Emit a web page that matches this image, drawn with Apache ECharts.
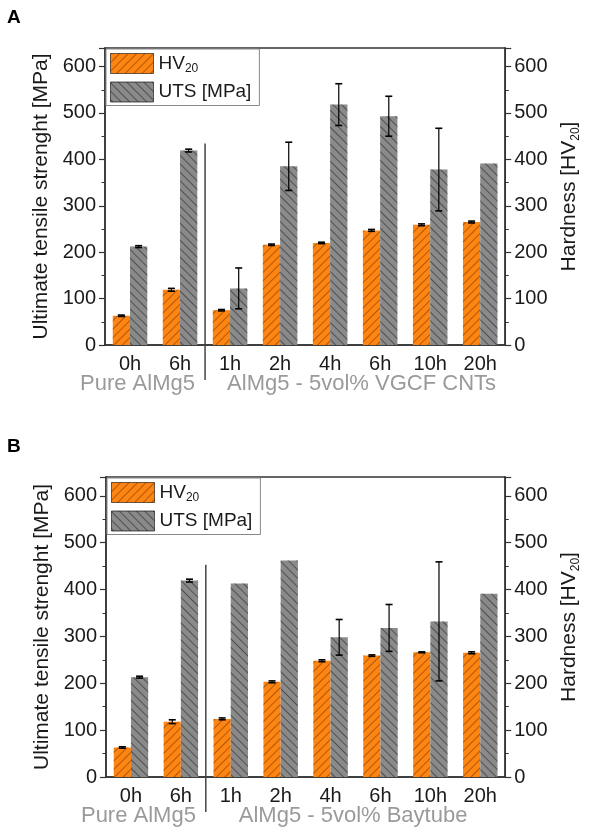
<!DOCTYPE html>
<html>
<head>
<meta charset="utf-8">
<script src="https://cdn.jsdelivr.net/npm/echarts@6/dist/echarts.min.js"></script>
<style>
html,body{margin:0;padding:0;background:#fff;}
#chart{width:590px;height:831px;}
</style>
</head>
<body>
<div id="chart"></div>
<script>
const categories = ['0h', '6h', '1h', '2h', '4h', '6h', '10h', '20h'];
const yTicksMax = 640;
// Panel A: AlMg5 - 5vol% VGCF CNTs
const hvA = [63, 119, 75, 216, 220, 247, 259, 265];
const hvErrA = [1.5, 3, 1.5, 1.5, 1.5, 2, 2, 2];
const utsA = [212, 419, 122, 385, 518, 493, 378, 391];
const utsErrA = [2, 3, 44, 52, 45, 43, 89, 0];
// Panel B: AlMg5 - 5vol% Baytube
const hvB = [63, 118, 124, 203, 248, 259, 266, 265];
const hvErrB = [1.5, 4, 2, 2, 2, 1.5, 1, 2];
const utsB = [213, 419, 413, 462, 298, 318, 332, 391];
const utsErrB = [2, 3, 0, 0, 38, 50, 127, 0];
const sepTop = [434, 453];
const groupLabelsA = ['Pure AlMg5', 'AlMg5 - 5vol% VGCF CNTs'];
const groupLabelsB = ['Pure AlMg5', 'AlMg5 - 5vol% Baytube'];
const panelTitles = ['A', 'B'];

const FONT = '"Liberation Sans", Arial, sans-serif';
const AX = '#333';
const TXT = '#1a1a1a';
const BAR_GAP_CAT = 0.31;

const hvDecal = {symbol: 'rect', symbolSize: 1, dashArrayX: [1, 0], dashArrayY: [0.9, 4.3], rotation: -Math.PI / 4, color: 'rgba(110,50,0,0.55)'};
const utsDecal = {symbol: 'rect', symbolSize: 1, dashArrayX: [1, 0], dashArrayY: [0.9, 4.3], rotation: Math.PI / 4, color: 'rgba(40,40,40,0.6)'};

function errRender(sign) {
  return function (params, api) {
    const i = api.value(0), v = api.value(1), e = api.value(2);
    if (!e) return null;
    const band = api.size([1, 0])[0];
    const bw = band * (1 - BAR_GAP_CAT) / 2;
    const cx = api.coord([i, v])[0] + sign * bw / 2;
    const top = api.coord([i, v + e])[1];
    const bot = api.coord([i, v - e])[1];
    const cap = 3.5;
    const st = {stroke: '#000', lineWidth: 1.2};
    return {type: 'group', children: [
      {type: 'line', shape: {x1: cx, y1: top, x2: cx, y2: bot}, style: st},
      {type: 'line', shape: {x1: cx - cap, y1: top, x2: cx + cap, y2: top}, style: Object.assign({}, st, {lineWidth: 1.6})},
      {type: 'line', shape: {x1: cx - cap, y1: bot, x2: cx + cap, y2: bot}, style: Object.assign({}, st, {lineWidth: 1.6})}
    ]};
  };
}

function yAx(gi, pos, name) {
  return {
    type: 'value', gridIndex: gi, position: pos, min: 0, max: yTicksMax, interval: 100,
    name: name, nameLocation: 'middle', nameRotate: 90, nameGap: pos === 'left' ? 52 : 48,
    nameTextStyle: {fontFamily: FONT, fontSize: 21, color: TXT,
      rich: {s: {fontFamily: FONT, fontSize: 12, color: TXT, verticalAlign: 'bottom', lineHeight: 26}}},
    axisLine: {show: true, lineStyle: {color: AX, width: 1.5}},
    axisTick: {show: true, length: 6, lineStyle: {color: AX, width: 1.2}},
    minorTick: {show: true, splitNumber: 2, length: 3.5, lineStyle: {color: AX, width: 1}},
    splitLine: {show: false},
    axisLabel: {fontFamily: FONT, fontSize: 20, color: TXT, margin: 9, showMaxLabel: false}
  };
}
function xAx(gi) {
  return {
    type: 'category', gridIndex: gi, data: categories,
    axisLine: {show: true, lineStyle: {color: AX, width: 1.5}},
    axisTick: {show: false},
    axisLabel: {fontFamily: FONT, fontSize: 20, color: TXT, margin: 9, interval: 0}
  };
}
function legendFor(gi, left, top) {
  return {
    data: [{name: 'HV20', icon: 'rect'}, {name: 'UTS [MPa]', icon: 'rect'}],
    left: left, top: top, orient: 'vertical',
    itemWidth: 43, itemHeight: 20, itemGap: 7, padding: [4, 8, 3, 4],
    backgroundColor: '#fff', borderColor: '#888', borderWidth: 1, borderRadius: 0,
    selectedMode: false,
    itemStyle: {borderColor: 'rgba(0,0,0,0.35)', borderWidth: 1},
    formatter: n => n === 'HV20' ? '{n|HV}{s|20}' : '{n|UTS [MPa]}',
    textStyle: {fontFamily: FONT, fontSize: 19, color: TXT,
      rich: {n: {fontFamily: FONT, fontSize: 19, color: TXT, lineHeight: 22, verticalAlign: 'middle'},
             s: {fontFamily: FONT, fontSize: 12, color: TXT, lineHeight: 22, verticalAlign: 'bottom'}}}
  };
}
function barSeries(name, gi, data, color, decal) {
  return {
    name: name, type: 'bar', xAxisIndex: gi, yAxisIndex: gi * 2, data: data,
    barGap: '0%', barCategoryGap: (BAR_GAP_CAT * 100) + '%',
    itemStyle: {color: color, decal: decal}, z: 2
  };
}
function errSeries(gi, vals, errs, sign) {
  return {
    type: 'custom', xAxisIndex: gi, yAxisIndex: gi * 2, z: 5, silent: true,
    data: vals.map((v, i) => [i, v, errs[i]]),
    renderItem: errRender(sign)
  };
}

const chart = echarts.init(document.getElementById('chart'), null, {renderer: 'canvas'});
const option = {
  animation: false,
  backgroundColor: '#fff',
  aria: {enabled: true, decal: {show: true}},
  grid: [
    {left: 105, top: 48, width: 405, height: 297, show: true, borderColor: AX, borderWidth: 1.5, backgroundColor: 'transparent'},
    {left: 106, top: 477, width: 409, height: 300, show: true, borderColor: AX, borderWidth: 1.5, backgroundColor: 'transparent'}
  ],
  xAxis: [xAx(0), xAx(1)],
  yAxis: [
    yAx(0, 'left', 'Ultimate tensile strenght [MPa]'),
    yAx(0, 'right', 'Hardness [HV{s|20}]'),
    yAx(1, 'left', 'Ultimate tensile strenght [MPa]'),
    yAx(1, 'right', 'Hardness [HV{s|20}]')
  ],
  legend: [legendFor(0, 106, 49), legendFor(1, 107, 478)],
  series: [
    barSeries('HV20', 0, hvA, '#ff8512', hvDecal),
    barSeries('UTS [MPa]', 0, utsA, '#8a8a8a', utsDecal),
    barSeries('HV20', 1, hvB, '#ff8512', hvDecal),
    barSeries('UTS [MPa]', 1, utsB, '#8a8a8a', utsDecal),
    errSeries(0, hvA, hvErrA, -1),
    errSeries(0, utsA, utsErrA, 1),
    errSeries(1, hvB, hvErrB, -1),
    errSeries(1, utsB, utsErrB, 1)
  ]
};
chart.setOption(option);

// Decorations: separators, group labels and panel titles
const gfx = [];
const groupLabels = [groupLabelsA, groupLabelsB];
const labelLeftOffset = [[-50, -3], [-50, 8]];
for (let g = 0; g < 2; g++) {
  const p1 = chart.convertToPixel({xAxisIndex: g, yAxisIndex: g * 2}, [1, sepTop[g]]);
  const p2 = chart.convertToPixel({xAxisIndex: g, yAxisIndex: g * 2}, [2, 0]);
  const sx = (p1[0] + p2[0]) / 2;
  gfx.push({type: 'line', shape: {x1: sx, y1: p1[1], x2: sx, y2: p2[1] + 35},
    style: {stroke: '#444', lineWidth: 1.5}, z: 10});
  const c0 = chart.convertToPixel({xAxisIndex: g, yAxisIndex: g * 2}, [0, 0]);
  gfx.push({type: 'text', x: c0[0] + labelLeftOffset[g][0], y: c0[1] + 28,
    style: {text: groupLabels[g][0], fontFamily: FONT, fontSize: 22, fill: '#9a9a9a'}, z: 10});
  gfx.push({type: 'text', x: p2[0] + labelLeftOffset[g][1], y: p2[1] + 28,
    style: {text: groupLabels[g][1], fontFamily: FONT, fontSize: 22, fill: '#9a9a9a'}, z: 10});
}
gfx.push({type: 'text', left: 7, top: 8, style: {text: panelTitles[0], fontFamily: FONT, fontSize: 19, fontWeight: 'bold', fill: '#000'}});
gfx.push({type: 'text', left: 7, top: 437, style: {text: panelTitles[1], fontFamily: FONT, fontSize: 19, fontWeight: 'bold', fill: '#000'}});
chart.setOption({graphic: gfx});
</script>
</body>
</html>
